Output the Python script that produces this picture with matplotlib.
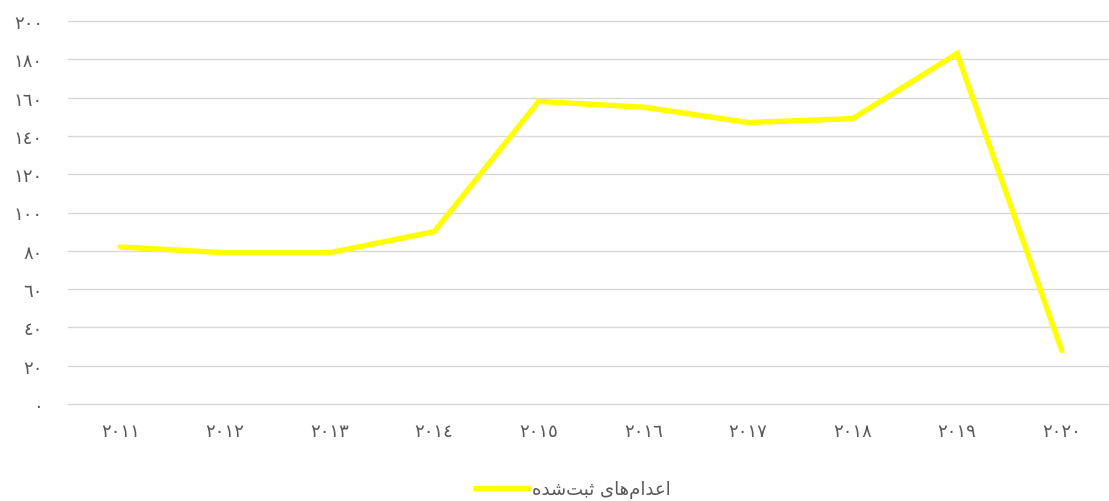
import matplotlib
matplotlib.use("Agg")
import matplotlib.pyplot as plt

# ---- data ----
years = [2011, 2012, 2013, 2014, 2015, 2016, 2017, 2018, 2019, 2020]
executions = [82, 79, 79, 90, 158, 155, 147, 149, 183, 28]
y_ticks = [0, 20, 40, 60, 80, 100, 120, 140, 160, 180, 200]
series_label = "اعدام\u200cهای ثبت\u200cشده"

# ---- helpers ----
AR_DIGITS = "٠١٢٣٤٥٦٧٨٩"


def ar_num(n):
    return "".join(AR_DIGITS[int(c)] for c in str(n))


# isolated, final, initial, medial (None = right-joining only)
FORMS = {
    "\u0627": ("\uFE8D", "\uFE8E", None, None),
    "\u062F": ("\uFEA9", "\uFEAA", None, None),
    "\u0639": ("\uFEC9", "\uFECA", "\uFECB", "\uFECC"),
    "\u0645": ("\uFEE1", "\uFEE2", "\uFEE3", "\uFEE4"),
    "\u0647": ("\uFEE9", "\uFEEA", "\uFEEB", "\uFEEC"),
    "\u06CC": ("\uFBFC", "\uFBFD", "\uFBFE", "\uFBFF"),
    "\u062B": ("\uFE99", "\uFE9A", "\uFE9B", "\uFE9C"),
    "\u0628": ("\uFE8F", "\uFE90", "\uFE91", "\uFE92"),
    "\u062A": ("\uFE95", "\uFE96", "\uFE97", "\uFE98"),
    "\u0634": ("\uFEB5", "\uFEB6", "\uFEB7", "\uFEB8"),
}


def shape(text):
    chars = list(text)
    out = []
    for i, ch in enumerate(chars):
        if ch not in FORMS:
            if ch != "\u200c":
                out.append(ch)
            continue
        prev = chars[i - 1] if i > 0 else None
        nxt = chars[i + 1] if i + 1 < len(chars) else None
        join_prev = prev in FORMS and FORMS[prev][2] is not None
        join_next = nxt in FORMS and FORMS[ch][2] is not None
        iso, fin, ini, med = FORMS[ch]
        if join_prev and join_next:
            out.append(med)
        elif join_prev:
            out.append(fin)
        elif join_next:
            out.append(ini)
        else:
            out.append(iso)
    return "".join(reversed(out))


plt.rcParams["font.family"] = ["DejaVu Sans"]

W, H = 1109, 502
fig = plt.figure(figsize=(W / 100, H / 100), dpi=100)
left, right = 68 / W, 1114 / W
bottom, top = (H - 405) / H, (H - 22) / H
ax = fig.add_axes([left, bottom, right - left, top - bottom])

x = list(range(len(years)))
ax.plot(x, executions, color="#FFFF00", lw=3.9, solid_capstyle="round",
        solid_joinstyle="miter", label=shape(series_label), zorder=3)

ax.set_xlim(-0.5, len(years) - 0.5)
ax.set_ylim(0, 200)
ax.set_yticks(y_ticks)
ax.set_yticklabels([ar_num(v) for v in y_ticks])
ax.set_xticks(x)
ax.set_xticklabels([ar_num(y) for y in years])
ax.grid(axis="y", color="#D9D9D9", lw=1.0, zorder=0)
for gl in ax.yaxis.get_gridlines():
    gl.set_clip_on(False)
ax.set_axisbelow(True)
for s in ax.spines.values():
    s.set_visible(False)
ax.tick_params(axis="both", length=0, labelsize=13, labelcolor="#595959")
ax.tick_params(axis="y", pad=18)
ax.tick_params(axis="x", pad=13)

fig.legend(loc="center", bbox_to_anchor=(573 / W, (H - 490) / H), frameon=False,
           fontsize=13, labelcolor="#595959", handlelength=3.0, handletextpad=0.15)

fig.savefig("out.png", dpi=100)
